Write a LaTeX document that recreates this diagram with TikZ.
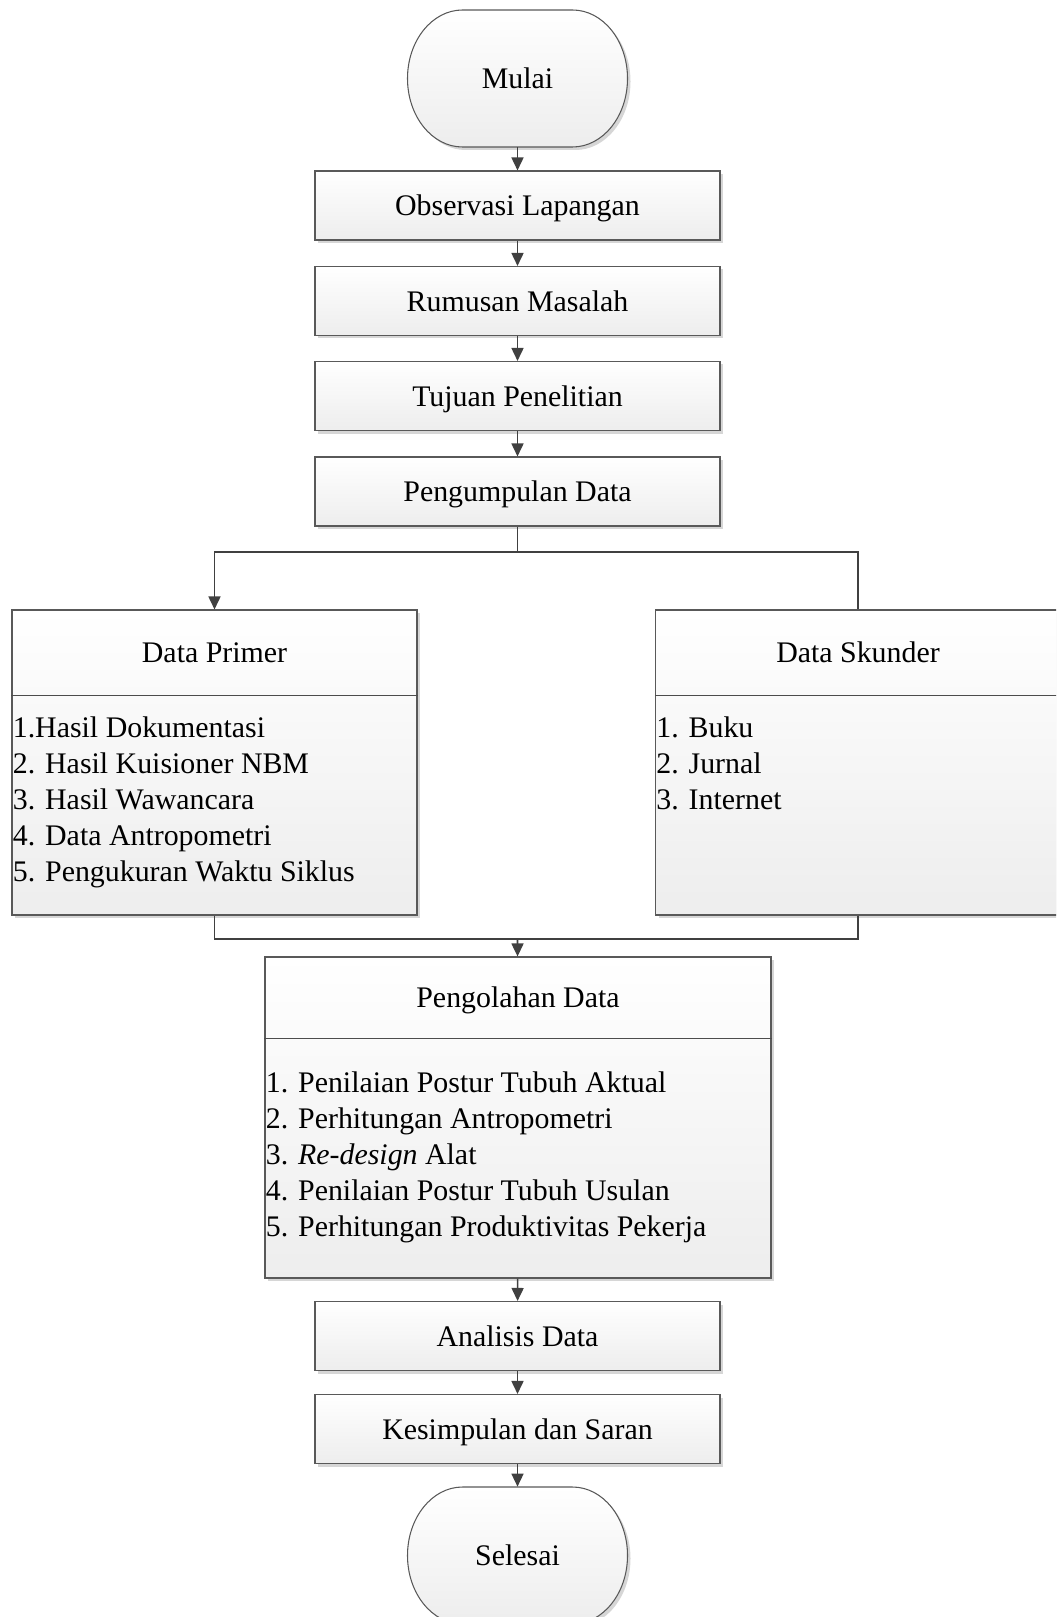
\documentclass[tikz,border=0pt]{standalone}
\usepackage{fontspec}
\setmainfont{Liberation Serif}
\usetikzlibrary{arrows.meta,shadows}

\tikzset{
  box/.style={draw=black!65, line width=0.6pt, top color=white, bottom color=black!7,
    drop shadow={shadow xshift=0.06cm, shadow yshift=-0.06cm, fill=black!16, opacity=1},
    inner sep=0pt, text height=11.7pt, text depth=0pt,
    minimum width=8.1cm, minimum height=1.38cm},
  terminal/.style={inner sep=0pt, minimum width=4.38cm, minimum height=2.74cm},
  termshape/.style={draw=black!65, line width=0.6pt, top color=white, bottom color=black!7,
    drop shadow={shadow xshift=0.06cm, shadow yshift=-0.06cm, fill=black!16, opacity=1}},
  listbox/.style={box, minimum height=6.1cm},
  listtext/.style={anchor=north west, align=left, inner sep=0pt},
  title/.style={anchor=base, inner sep=0pt},
  divider/.style={draw=black!70, line width=0.6pt},
  link/.style={draw=black!75, line width=0.9pt},
  flow/.style={link, -{Triangle[length=0.26cm,width=0.24cm]}}
}

\begin{document}
\begin{tikzpicture}[font=\fontsize{17}{20.6}\selectfont]
\useasboundingbox (0,0) rectangle (21.12,-32.34);
\clip (0,0) rectangle (21.12,-32.34);

% start and end shapes
\path[termshape] (9.25,-0.2) -- (11.45,-0.2)
  arc[start angle=90, end angle=-90, x radius=1.1cm, y radius=1.37cm] -- (9.25,-2.94)
  arc[start angle=270, end angle=90, x radius=1.1cm, y radius=1.37cm] -- cycle;
\path[termshape] (9.25,-29.74) -- (11.45,-29.74)
  arc[start angle=90, end angle=-90, x radius=1.1cm, y radius=1.37cm] -- (9.25,-32.48)
  arc[start angle=270, end angle=90, x radius=1.1cm, y radius=1.37cm] -- cycle;

\node[terminal] (mulai) at (10.35,-1.57) {Mulai};
\node[box] (observasi) at (10.35,-4.11) {Observasi Lapangan};
\node[box] (rumusan) at (10.35,-6.02) {Rumusan Masalah};
\node[box] (tujuan) at (10.35,-7.92) {Tujuan Penelitian};
\node[box] (pengumpulan) at (10.35,-9.83) {Pengumpulan Data};

\node[listbox] (primer) at (4.29,-15.25) {};
\node[listbox] (skunder) at (17.16,-15.25) {};
\node[listbox, minimum width=10.12cm, minimum height=6.42cm] (pengolahan) at (10.36,-22.35) {};

\node[box] (analisis) at (10.35,-26.72) {Analisis Data};
\node[box] (kesimpulan) at (10.35,-28.58) {Kesimpulan dan Saran};
\node[terminal] (selesai) at (10.35,-31.11) {Selesai};

% headers of the list boxes
\node[title] (primertitle) at ([yshift=-1.07cm]primer.north) {Data Primer};
\node[title] (skundertitle) at ([yshift=-1.07cm]skunder.north) {Data Skunder};
\node[title] (pengolahantitle) at ([yshift=-1.03cm]pengolahan.north) {Pengolahan Data};

\draw[divider] ([yshift=-1.72cm]primer.north west) -- ([yshift=-1.72cm]primer.north east);
\draw[divider] ([yshift=-1.72cm]skunder.north west) -- ([yshift=-1.72cm]skunder.north east);
\draw[divider] ([yshift=-1.64cm]pengolahan.north west) -- ([yshift=-1.64cm]pengolahan.north east);

\node[listtext] (primerlist) at ([xshift=0.02cm,yshift=-2.13cm]primer.north west)
  {1.Hasil Dokumentasi\\2. Hasil Kuisioner NBM\\3. Hasil Wawancara\\4. Data Antropometri\\5. Pengukuran Waktu Siklus};
\node[listtext] (skunderlist) at ([xshift=0.02cm,yshift=-2.13cm]skunder.north west)
  {1. Buku\\2. Jurnal\\3. Internet};
\node[listtext] (pengolahanlist) at ([xshift=0.02cm,yshift=-2.29cm]pengolahan.north west)
  {1. Penilaian Postur Tubuh Aktual\\2. Perhitungan Antropometri\\3. \textit{Re-design} Alat\\4. Penilaian Postur Tubuh Usulan\\5. Perhitungan Produktivitas Pekerja};

\coordinate (split) at (10.35,-11.04);
\coordinate (merge) at (10.35,-18.78);

\draw[flow] (mulai) -- (observasi);
\draw[flow] (observasi) -- (rumusan);
\draw[flow] (rumusan) -- (tujuan);
\draw[flow] (tujuan) -- (pengumpulan);
\draw[link] (pengumpulan) -- (split);
\draw[flow] (split) -| (primer.north);
\draw[link] (split) -| (skunder.north);
\draw[link] (primer.south) |- (merge);
\draw[link] (skunder.south) |- (merge);
\draw[flow] (merge) -- (pengolahan);
\draw[flow] (pengolahan) -- (analisis);
\draw[flow] (analisis) -- (kesimpulan);
\draw[flow] (kesimpulan) -- (selesai);
\end{tikzpicture}
\end{document}
